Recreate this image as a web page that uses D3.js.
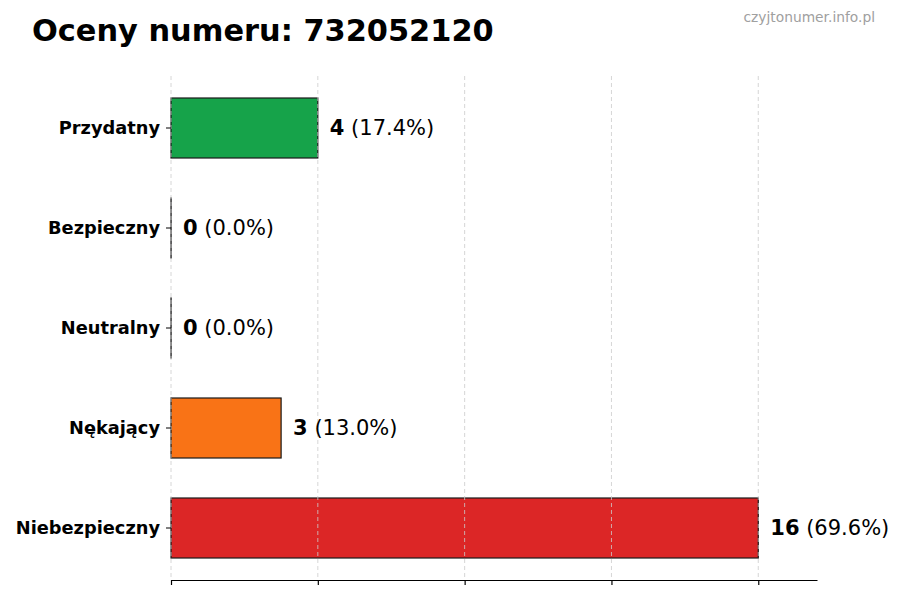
<!DOCTYPE html>
<html><head><meta charset="utf-8">
<script src="https://cdn.jsdelivr.net/npm/d3@7"></script>
<style>body{margin:0;background:#fff;font-family:"DejaVu Sans",sans-serif}</style>
</head><body><svg id="c" width="900" height="600"></svg>
<script>
const categories = ["Przydatny","Bezpieczny","Neutralny","Nękający","Niebezpieczny"];
const values = [4,0,0,3,16];
const percents = ["17.4%","0.0%","0.0%","13.0%","69.6%"];
const colors = ["#16a34a","#9ca3af","#6b7280","#f97316","#dc2626"];
const xTicks = [0,4,8,12,16];
const title = "Oceny numeru: 732052120";
const watermark = "czyjtonumer.info.pl";

const svg = d3.select("#c");
const m = {left:171, right:817, top:78, bottom:578};
const x = d3.scaleLinear().domain([0, d3.max(values)*1.1]).range([m.left, m.right]);
const y = d3.scaleBand().domain(categories).range([m.top, m.bottom]).paddingInner(0.4).paddingOuter(0.2);

svg.append("text").attr("x",32).attr("y",41).attr("font-size",30.4).attr("font-weight","bold").attr("fill","#000").text(title);
svg.append("text").attr("x",875).attr("y",22).attr("text-anchor","end").attr("font-size",13.8).attr("fill","#a0a0a0").text(watermark);

// bars
svg.selectAll("rect.bar").data(categories).enter().append("rect")
  .attr("x", x(0)).attr("y", d=>y(d)).attr("width", (d,i)=>Math.max(0.1, x(values[i])-x(0))).attr("height", y.bandwidth())
  .attr("fill",(d,i)=>colors[i]).attr("stroke","#1a1a1a").attr("stroke-width",1.2);

// grid on top
svg.append("g").selectAll("line").data(xTicks).enter().append("line")
  .attr("x1",d=>x(d)).attr("x2",d=>x(d)).attr("y1",76).attr("y2",580)
  .attr("stroke","#cccccc").attr("stroke-width",0.8).attr("stroke-dasharray","4,3");

// x axis
const xa = svg.append("g").attr("transform","translate(0,580)").call(d3.axisBottom(x).tickValues(xTicks).tickFormat("").tickSize(5).tickSizeOuter(0));
xa.select(".domain").attr("stroke","#000").attr("stroke-width",1.2);
xa.selectAll(".tick line").attr("stroke","#000").attr("stroke-width",1.2);

// y axis
const ya = svg.append("g").attr("transform",`translate(${m.left},0)`).call(d3.axisLeft(y).tickSize(5).tickPadding(6));
ya.select(".domain").remove();
ya.selectAll(".tick line").attr("stroke","#000").attr("stroke-width",1);
ya.selectAll(".tick text").attr("font-size",17.8).attr("font-weight","bold").attr("fill","#000").attr("font-family","DejaVu Sans");

// value labels
const lab = svg.selectAll("text.val").data(categories).enter().append("text")
  .attr("x",(d,i)=>x(values[i])+12).attr("y",d=>y(d)+y.bandwidth()/2).attr("dy","0.35em")
  .attr("font-size",21).attr("fill","#000");
lab.append("tspan").attr("font-weight","bold").text((d,i)=>values[i]);
lab.append("tspan").text((d,i)=>" ("+percents[i]+")");
</script></body></html>
